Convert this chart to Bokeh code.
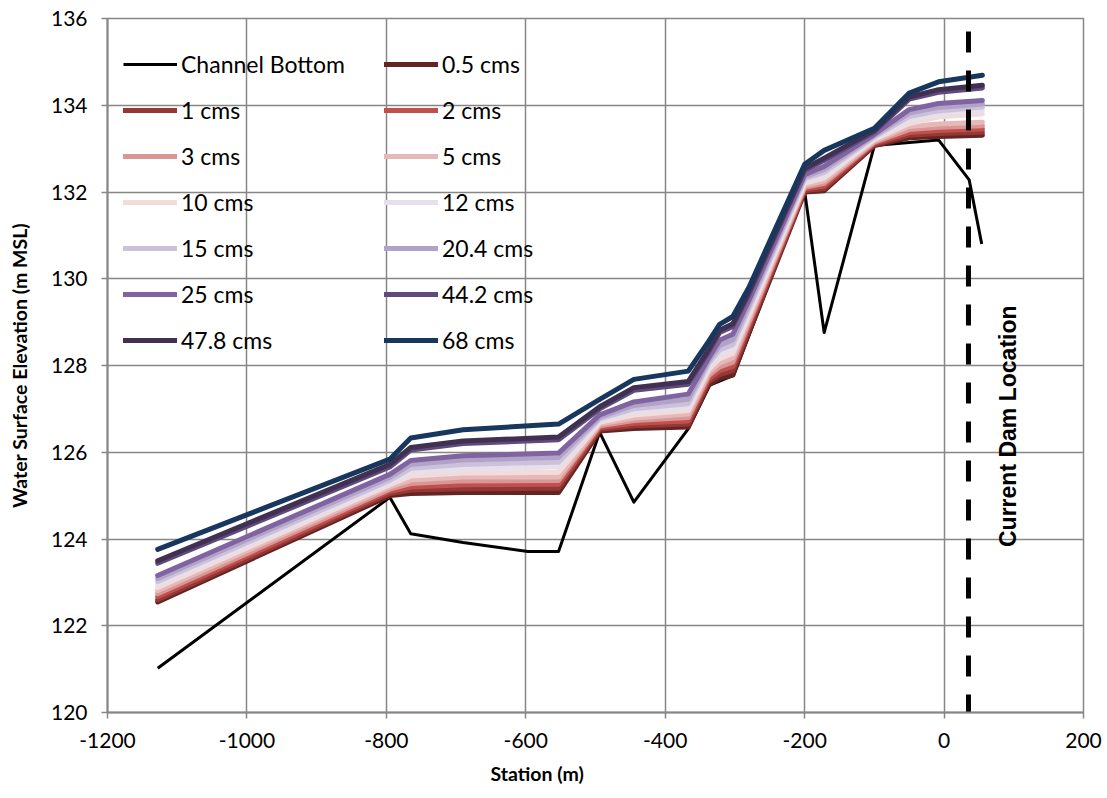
import math
from bokeh.plotting import figure
from bokeh.models import FixedTicker, Legend, LegendItem, Title
from bokeh.embed import file_html
from bokeh.resources import INLINE
from bokeh.core.properties import value

# ---------------- data ----------------
bottom_station = [-1128, -795, -765, -690, -597, -553, -494, -445, -367, -336, -302,
                  -200, -172, -100, -8, 36, 54]
bottom_elev = [121.02, 124.96, 124.12, 123.92, 123.71, 123.71, 126.46, 124.85, 126.54,
               127.55, 127.77, 132.02, 128.76, 133.07, 133.20, 132.28, 130.80]

ws_station = [-1128, -795, -765, -690, -553, -494, -445, -367, -338, -322, -303, -280,
              -200, -172, -100, -50, -8, 55]

flow_labels = ["0.5 cms", "1 cms", "2 cms", "3 cms", "5 cms", "10 cms", "12 cms",
               "15 cms", "20.4 cms", "25 cms", "44.2 cms", "47.8 cms", "68 cms"]

q_0_5 = [122.55, 125.00, 125.05, 125.07, 125.07, 126.49, 126.55, 126.58, 127.55, 127.70, 127.78, 128.75, 132.00, 132.03, 133.07, 133.25, 133.28, 133.31]
q_1 = [122.60, 125.05, 125.13, 125.16, 125.17, 126.53, 126.61, 126.65, 127.62, 127.79, 127.88, 128.83, 132.03, 132.08, 133.09, 133.31, 133.35, 133.38]
q_2 = [122.67, 125.10, 125.20, 125.25, 125.26, 126.57, 126.67, 126.72, 127.69, 127.88, 127.98, 128.91, 132.07, 132.14, 133.12, 133.37, 133.42, 133.45]
q_3 = [122.74, 125.15, 125.28, 125.34, 125.35, 126.61, 126.73, 126.80, 127.76, 127.97, 128.08, 128.99, 132.11, 132.20, 133.15, 133.44, 133.49, 133.53]
q_5 = [122.81, 125.20, 125.36, 125.43, 125.43, 126.65, 126.79, 126.88, 127.83, 128.06, 128.18, 129.07, 132.15, 132.26, 133.18, 133.51, 133.57, 133.61]
q_10 = [122.88, 125.25, 125.45, 125.52, 125.54, 126.69, 126.86, 126.96, 127.90, 128.16, 128.28, 129.15, 132.20, 132.32, 133.21, 133.58, 133.73, 133.80]
q_12 = [122.95, 125.30, 125.54, 125.62, 125.66, 126.73, 126.93, 127.04, 127.97, 128.26, 128.38, 129.23, 132.25, 132.38, 133.24, 133.66, 133.80, 133.88]
q_15 = [123.02, 125.35, 125.63, 125.72, 125.77, 126.77, 127.00, 127.12, 128.04, 128.36, 128.48, 129.31, 132.30, 132.45, 133.27, 133.74, 133.87, 133.96]
q_20_4 = [123.09, 125.42, 125.72, 125.82, 125.88, 126.81, 127.08, 127.22, 128.10, 128.46, 128.59, 129.40, 132.35, 132.52, 133.30, 133.82, 133.95, 134.03]
q_25 = [123.16, 125.49, 125.81, 125.92, 125.98, 126.86, 127.16, 127.34, 128.16, 128.58, 128.72, 129.50, 132.40, 132.59, 133.33, 133.90, 134.04, 134.11]
q_44_2 = [123.44, 125.66, 126.05, 126.20, 126.29, 127.00, 127.43, 127.57, 128.30, 128.76, 128.90, 129.64, 132.50, 132.73, 133.39, 134.14, 134.30, 134.40]
q_47_8 = [123.50, 125.72, 126.11, 126.26, 126.35, 127.05, 127.49, 127.63, 128.36, 128.81, 128.96, 129.70, 132.54, 132.78, 133.42, 134.19, 134.36, 134.46]
q_68 = [123.76, 125.84, 126.33, 126.52, 126.65, 127.22, 127.68, 127.87, 128.55, 128.95, 129.13, 129.80, 132.64, 132.96, 133.47, 134.28, 134.54, 134.69]

flow_series = [q_0_5, q_1, q_2, q_3, q_5, q_10, q_12, q_15, q_20_4, q_25, q_44_2, q_47_8, q_68]
flow_colors = ["#632523", "#953735", "#C0504D", "#D99694", "#E6B9B8", "#F2DCDB", "#E6E0EC",
               "#CCC1DA", "#B3A2C7", "#8064A2", "#604A7B", "#403152", "#17375E"]

dam_station = 35
dam_elev_range = [135.7, 120]
dam_label = "Current Dam Location"
dam_label_elev = 126.6

x_ticks = [-1200, -1000, -800, -600, -400, -200, 0, 200]
y_ticks = [120, 122, 124, 126, 128, 130, 132, 134, 136]

# ---------------- figure ----------------
GRID = "#868686"
p = figure(width=1107, height=798, output_backend="svg", toolbar_location=None,
           x_range=(-1200, 200), y_range=(120, 136))
p.min_border_left = 107
p.min_border_right = 24
p.min_border_top = 18
p.min_border_bottom = 86
p.outline_line_color = GRID
p.outline_line_width = 1.5
p.background_fill_color = "white"
p.border_fill_color = "white"

for ax in (p.xaxis[0], p.yaxis[0]):
    ax.axis_line_color = GRID
    ax.axis_line_width = 2
    ax.major_tick_line_color = GRID
    ax.major_tick_line_width = 1.5
    ax.major_tick_out = 6
    ax.major_tick_in = 0
    ax.minor_tick_line_color = None
    ax.major_label_text_font = "Lato"
    ax.major_label_text_color = "black"
    ax.axis_label_text_font = "Lato"
    ax.axis_label_text_font_style = "bold"
    ax.axis_label_text_font_size = "19.5px"
    ax.axis_label_text_color = "black"

p.xaxis.ticker = FixedTicker(ticks=x_ticks)
p.yaxis.ticker = FixedTicker(ticks=y_ticks)
p.xaxis.major_label_overrides = {t: str(t) for t in x_ticks}
p.xaxis.major_label_text_font_size = "21px"
p.yaxis.major_label_text_font_size = "21px"
p.xaxis.major_label_standoff = 14
p.yaxis.major_label_standoff = 14
p.yaxis.axis_label = "Water Surface Elevation (m MSL)"
p.yaxis.axis_label_standoff = 17

p.xgrid.ticker = FixedTicker(ticks=x_ticks)
p.ygrid.ticker = FixedTicker(ticks=y_ticks)
p.grid.grid_line_color = GRID
p.grid.grid_line_width = 1.5

xt = Title(text="Station (m)", align="left", offset=383, text_font="Lato",
           text_font_style="bold", text_font_size="19.5px", text_color="black",
           standoff=19)
p.add_layout(xt, "below")

renderers = []
r_bottom = p.line(bottom_station, bottom_elev, line_color="black", line_width=3,
                  line_join="round")
renderers.append(("Channel Bottom", r_bottom))
for lab, ys, col in zip(flow_labels, flow_series, flow_colors):
    r = p.line(ws_station, ys, line_color=col, line_width=5, line_join="round",
               line_cap="round")
    renderers.append((lab, r))

p.segment(x0=[dam_station], y0=[dam_elev_range[0]], x1=[dam_station], y1=[dam_elev_range[1]],
          line_color="black", line_width=5, line_dash="21 18")
p.text(x=[dam_station], y=[dam_label_elev], text=[dam_label], angle=math.pi / 2,
       x_offset=40, text_align="center", text_baseline="middle",
       text_font=value("Liberation Sans"), text_font_style="bold",
       text_font_size="23px", text_color="black")

col1 = renderers[0::2]
col2 = renderers[1::2]

def make_legend(items, vx, vy):
    lg = Legend(items=[LegendItem(label=l, renderers=[r]) for l, r in items],
                location=(vx, vy), orientation="vertical")
    lg.label_text_font = "Lato"
    lg.label_text_font_size = "23px"
    lg.label_text_color = "black"
    lg.glyph_width = 54
    lg.glyph_height = 28
    lg.label_height = 28
    lg.spacing = 18
    lg.label_standoff = 4
    lg.padding = 0
    lg.margin = 0
    lg.border_line_color = None
    lg.background_fill_alpha = 0
    return lg

p.add_layout(make_legend(col1, 16, 358), "center")
p.add_layout(make_legend(col2, 277, 358), "center")

open("out.html", "w").write(file_html(p, INLINE))
